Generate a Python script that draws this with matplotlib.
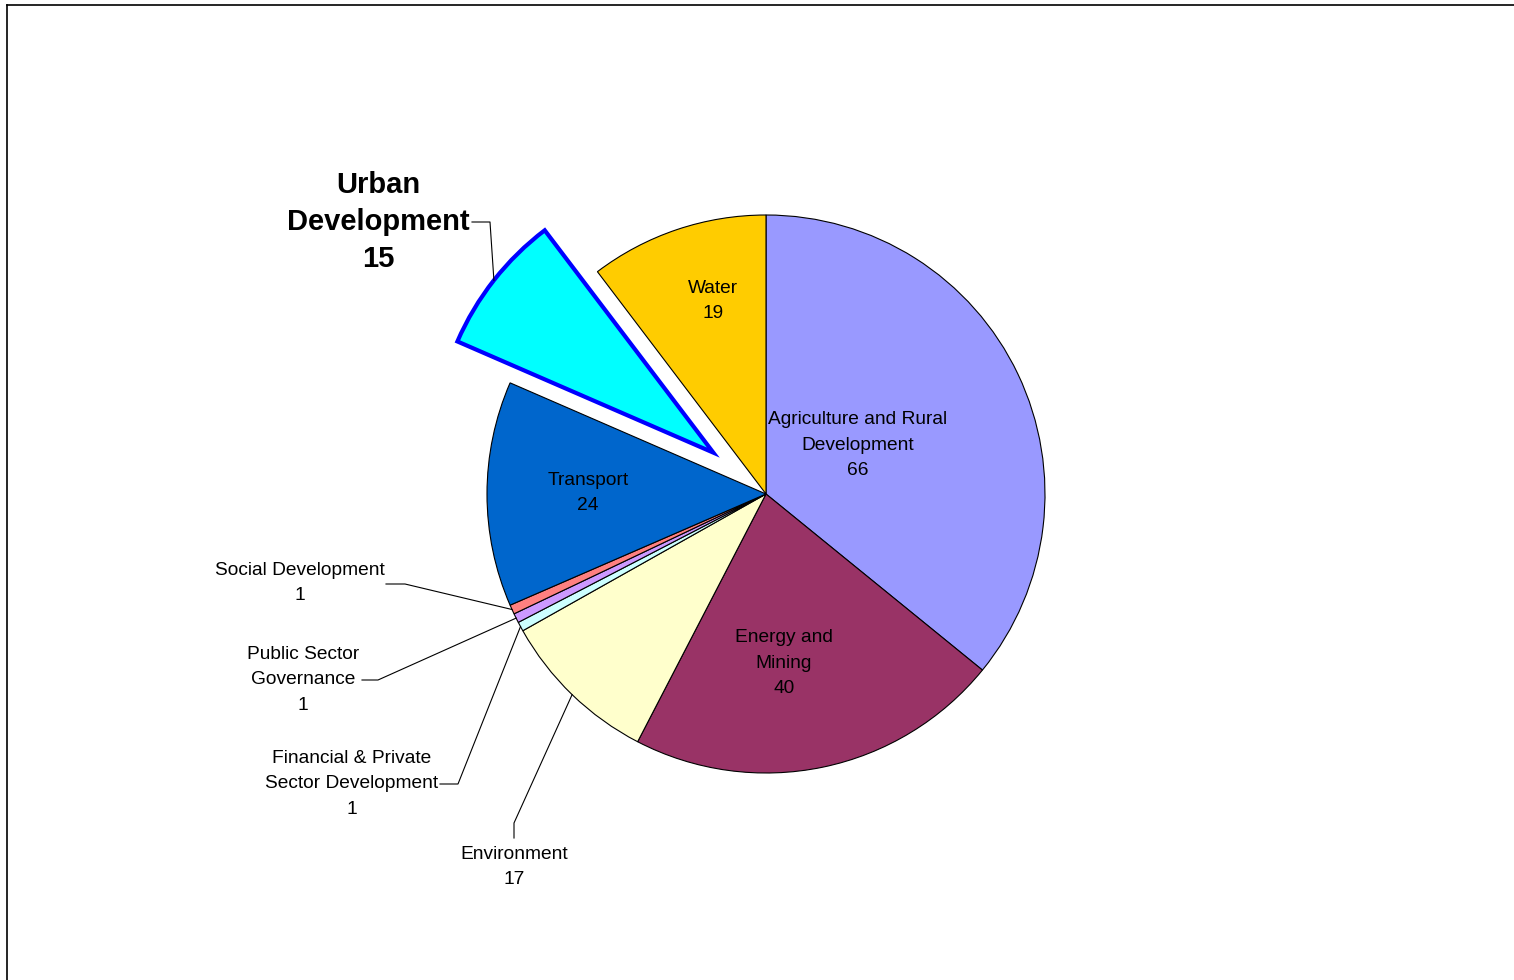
import matplotlib.pyplot as plt
import numpy as np

plt.rcParams['font.family'] = ['Liberation Sans', 'DejaVu Sans']

# data
sectors = ['Agriculture and Rural\nDevelopment', 'Energy and\nMining', 'Environment',
           'Financial & Private\nSector Development', 'Public Sector\nGovernance',
           'Social Development', 'Transport', 'Urban\nDevelopment', 'Water']
values = [66, 40, 17, 1, 1, 1, 24, 15, 19]
colors = ['#9999FF', '#993366', '#FFFFCC', '#CCFFFF', '#CC99FF',
          '#FF8080', '#0066CC', '#00FFFF', '#FFCC00']

W, H = 1514, 980
fig = plt.figure(figsize=(W / 100, H / 100), dpi=100)
ax = fig.add_axes([0, 0, 1, 1])

cx, cy, R = 766, H - 494, 279
explode = [0, 0, 0, 0, 0, 0, 0, 67, 0]

wedges, _ = ax.pie(values, colors=colors, startangle=90, counterclock=False,
                   center=(cx, cy), radius=R, explode=explode,
                   wedgeprops=dict(edgecolor='black', linewidth=0.8), frame=True)
ax.set_xlim(0, W)
ax.set_ylim(0, H)
ax.set_aspect('equal')
ax.axis('off')
wedges[7].set_edgecolor('#0000FF')
wedges[7].set_linewidth(3)


def img(x, y):
    return x, H - y


def edge_point(i):
    # point on the rim at the middle of wedge i
    w = wedges[i]
    t = np.deg2rad((w.theta1 + w.theta2) / 2)
    return w.center[0] + w.r * np.cos(t), w.center[1] + w.r * np.sin(t)


fs = 13.8
ls = 1.65
# labels inside
inside = {0: (858, 445), 1: (784, 663), 6: (588, 493), 8: (713, 301)}
for i, (x, y) in inside.items():
    ax.text(*img(x, y), f'{sectors[i]}\n{values[i]}', ha='center', va='center',
            fontsize=fs, color='black', linespacing=ls)

# labels outside with leader lines: text pos, leader start elbow
outside = {
    5: ((300, 583), [(386, 584), (405, 584)]),
    4: ((303, 680), [(362, 680), (378, 680)]),
    3: ((352, 784), [(440, 784), (458, 784)]),
    2: ((514, 867), [(514, 838), (514, 823)]),
}
for i, ((x, y), pts) in outside.items():
    ax.text(*img(x, y), f'{sectors[i]}\n{values[i]}', ha='center', va='center',
            fontsize=fs, color='black', linespacing=ls)
    px = [img(*p)[0] for p in pts] + [edge_point(i)[0]]
    py = [img(*p)[1] for p in pts] + [edge_point(i)[1]]
    ax.plot(px, py, color='black', lw=0.8)

# urban development, highlighted
ax.text(*img(378, 222), f'{sectors[7]}\n{values[7]}', ha='center', va='center',
        fontsize=21, fontweight='bold', linespacing=1.4)
ex, ey = edge_point(7)
ax.plot([472, 490, ex], [H - 222, H - 222, ey], color='black', lw=0.8)

# frame lines of the chart area
fig.add_artist(plt.Line2D([7 / W, 1], [1 - 5 / H, 1 - 5 / H], color='black', lw=1.2))
fig.add_artist(plt.Line2D([7 / W, 7 / W], [0, 1 - 5 / H], color='black', lw=1.2))

fig.savefig('out.png', dpi=100, facecolor='white')
